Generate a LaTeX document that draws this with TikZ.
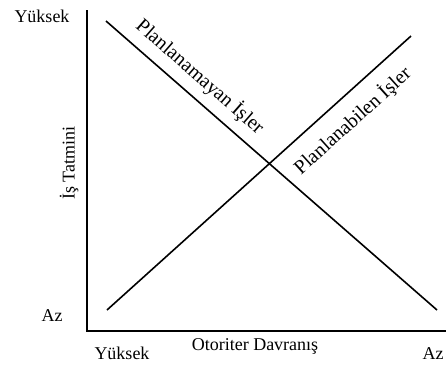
\documentclass[tikz,border=0pt]{standalone}
\usepackage{fontspec}
\setmainfont{Liberation Serif}
\usepackage{tikz}
\usetikzlibrary{positioning}
\tikzset{
  axis/.style={line width=1pt, draw=black},
  trend/.style={line width=0.8pt, draw=black},
  axislabel/.style={font=\fontsize{9}{10}\selectfont, inner sep=0pt},
  linelabel/.style={font=\fontsize{10}{11}\selectfont, sloped}
}

\begin{document}
\begin{tikzpicture}[x=0.5pt, y=-0.5pt]
  \useasboundingbox (0,0) rectangle (446,365);

  % axes
  \coordinate (ytop) at (87,10);
  \coordinate (origin) at (87,331);
  \coordinate (xend) at (446,331);
  \draw[axis] (ytop) -- (origin) -- (xend);

  % axis labels
  \node[axislabel] (yhigh) at (42,16) {Yüksek};
  \node[axislabel] (ylow) at (52,316) {Az};
  \node[axislabel, rotate=90] (ytitle) at (69,163) {İş Tatmini};
  \node[axislabel] (xhigh) at (122,353) {Yüksek};
  \node[axislabel] (xtitle) at (255,346) {Otoriter Davranış};
  \node[axislabel] (xlow) at (433,354) {Az};

  % the two lines
  \coordinate (unplanA) at (106,21);
  \coordinate (unplanB) at (437,310);
  \coordinate (planA) at (107,310);
  \coordinate (planB) at (411,36);
  \draw[trend] (unplanA) -- node[linelabel, above=1pt, pos=0.245] (unplantext) {Planlanamayan İşler} (unplanB);
  \draw[trend] (planA) -- node[linelabel, below=3pt, pos=0.755] (plantext) {Planlanabilen İşler} (planB);
\end{tikzpicture}
\end{document}
